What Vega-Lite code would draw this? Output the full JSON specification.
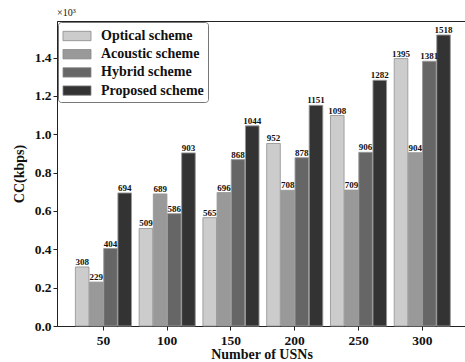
{
  "$schema": "https://vega.github.io/schema/vega-lite/v6.json",
  "width": 409,
  "height": 305,
  "autosize": {"type": "none"},
  "padding": {"left": 57, "top": 21, "right": 0, "bottom": 36},
  "background": "white",
  "title": {
    "text": "×10³",
    "anchor": "start",
    "frame": "group",
    "font": "Liberation Serif",
    "fontSize": 10,
    "fontWeight": "normal",
    "color": "#111",
    "offset": 3,
    "dx": 0
  },
  "data": {
    "values": [
      {"usn": "50", "scheme": "Optical scheme", "value": 308},
      {"usn": "50", "scheme": "Acoustic scheme", "value": 229},
      {"usn": "50", "scheme": "Hybrid scheme", "value": 404},
      {"usn": "50", "scheme": "Proposed scheme", "value": 694},
      {"usn": "100", "scheme": "Optical scheme", "value": 509},
      {"usn": "100", "scheme": "Acoustic scheme", "value": 689},
      {"usn": "100", "scheme": "Hybrid scheme", "value": 586},
      {"usn": "100", "scheme": "Proposed scheme", "value": 903},
      {"usn": "150", "scheme": "Optical scheme", "value": 565},
      {"usn": "150", "scheme": "Acoustic scheme", "value": 696},
      {"usn": "150", "scheme": "Hybrid scheme", "value": 868},
      {"usn": "150", "scheme": "Proposed scheme", "value": 1044},
      {"usn": "200", "scheme": "Optical scheme", "value": 952},
      {"usn": "200", "scheme": "Acoustic scheme", "value": 708},
      {"usn": "200", "scheme": "Hybrid scheme", "value": 878},
      {"usn": "200", "scheme": "Proposed scheme", "value": 1151},
      {"usn": "250", "scheme": "Optical scheme", "value": 1098},
      {"usn": "250", "scheme": "Acoustic scheme", "value": 709},
      {"usn": "250", "scheme": "Hybrid scheme", "value": 906},
      {"usn": "250", "scheme": "Proposed scheme", "value": 1282},
      {"usn": "300", "scheme": "Optical scheme", "value": 1395},
      {"usn": "300", "scheme": "Acoustic scheme", "value": 904},
      {"usn": "300", "scheme": "Hybrid scheme", "value": 1381},
      {"usn": "300", "scheme": "Proposed scheme", "value": 1518}
    ]
  },
  "encoding": {
    "x": {
      "field": "usn",
      "type": "ordinal",
      "sort": ["50", "100", "150", "200", "250", "300"],
      "scale": {"paddingInner": 0.12, "paddingOuter": 0.267, "align": 0.54},
      "axis": {
        "title": "Number of USNs",
        "labelAngle": 0,
        "labelFont": "Liberation Serif",
        "labelFontSize": 13.5,
        "labelFontWeight": "bold",
        "labelColor": "#111",
        "labelPadding": 3,
        "titleFont": "Liberation Serif",
        "titleFontSize": 14,
        "titleFontWeight": "bold",
        "titleColor": "#111",
        "titlePadding": 1,
        "domainColor": "#222",
        "tickColor": "#222",
        "tickSize": 4
      }
    },
    "xOffset": {
      "field": "scheme",
      "type": "nominal",
      "sort": ["Optical scheme", "Acoustic scheme", "Hybrid scheme", "Proposed scheme"],
      "scale": {"paddingInner": 0.04}
    },
    "y": {
      "field": "value",
      "type": "quantitative",
      "scale": {"domain": [0, 1591], "nice": false},
      "axis": {
        "title": "CC(kbps)",
        "values": [0, 200, 400, 600, 800, 1000, 1200, 1400],
        "labelExpr": "format(datum.value / 1000, '.1f')",
        "grid": false,
        "labelFont": "Liberation Serif",
        "labelFontSize": 13.5,
        "labelFontWeight": "bold",
        "labelColor": "#111",
        "titleFont": "Liberation Serif",
        "titleFontSize": 14,
        "titleFontWeight": "bold",
        "titleColor": "#111",
        "titlePadding": 8,
        "domainColor": "#222",
        "tickColor": "#222",
        "tickSize": 4
      }
    }
  },
  "layer": [
    {
      "mark": {"type": "bar", "stroke": "#999", "strokeWidth": 0.9},
      "encoding": {
        "color": {
          "field": "scheme",
          "type": "nominal",
          "sort": ["Optical scheme", "Acoustic scheme", "Hybrid scheme", "Proposed scheme"],
          "scale": {
            "domain": ["Optical scheme", "Acoustic scheme", "Hybrid scheme", "Proposed scheme"],
            "range": ["#cccccc", "#999999", "#666666", "#333333"]
          },
          "legend": {
            "title": null,
            "orient": "top-left",
            "offset": 1,
            "padding": 4,
            "rowPadding": 1.2,
            "symbolOffset": 5,
            "fillColor": "white",
            "strokeColor": "#777",
            "cornerRadius": 3,
            "symbolType": "M-1.5,-0.5H1.5V0.5H-1.5Z",
            "symbolSize": 350,
            "symbolStrokeColor": "#888",
            "symbolStrokeWidth": 0.8,
            "labelFont": "Liberation Serif",
            "labelFontSize": 14,
            "labelFontWeight": "bold",
            "labelColor": "#111",
            "labelOffset": 14
          }
        }
      }
    },
    {
      "mark": {
        "type": "text",
        "dy": -5,
        "font": "Liberation Serif",
        "fontSize": 9,
        "fontWeight": "bold",
        "color": "#111"
      },
      "encoding": {
        "text": {"field": "value", "type": "quantitative"}
      }
    }
  ],
  "config": {
    "view": {"stroke": "#222", "strokeWidth": 1}
  }
}
